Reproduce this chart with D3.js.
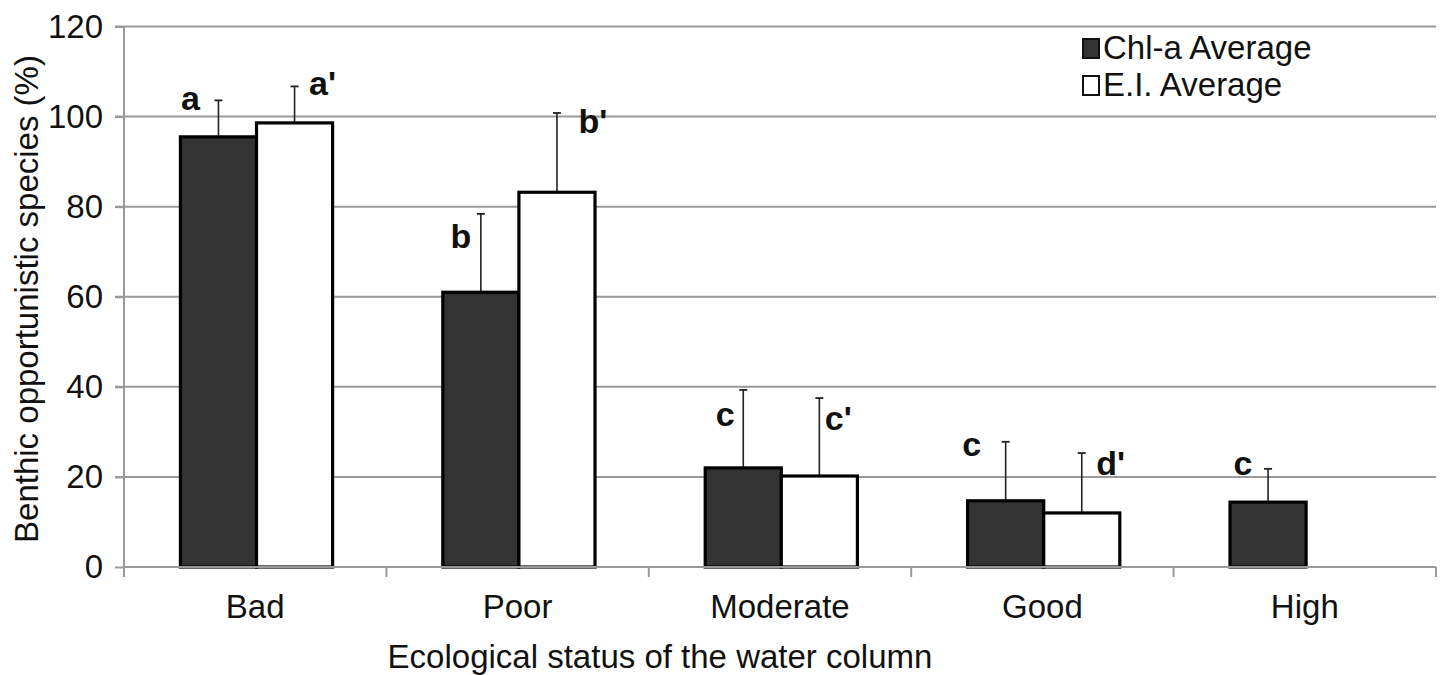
<!DOCTYPE html>
<html>
<head>
<meta charset="utf-8">
<script src="https://cdn.jsdelivr.net/npm/d3@7"></script>
<style>
  html, body { margin: 0; padding: 0; background: #fff; }
  svg { display: block; font-family: "Liberation Sans", Arial, sans-serif; }
</style>
</head>
<body>
<svg id="chart" width="1443" height="675"></svg>
<script>
// ---- data ----
const categories = ["Bad", "Poor", "Moderate", "Good", "High"];
const seriesNames = ["Chl-a Average", "E.I. Average"];
const chlValues = [95.5, 61.0, 22.0, 14.7, 14.4];
const chlErrors = [103.6, 78.4, 39.3, 27.8, 21.8];   // top of error bar
const eiValues  = [98.6, 83.2, 20.2, 12.0, null];
const eiErrors  = [106.7, 100.8, 37.5, 25.3, null];
const chlLetters = ["a", "b", "c", "c", "c"];
const eiLetters  = ["a'", "b'", "c'", "d'", null];
const chlLetterY = [101.5, 70.8, 31.3, 24.6, 20.4];
const eiLetterY  = [104.8, 96.4, 30.4, 20.4, null];
const yTicks = [0, 20, 40, 60, 80, 100, 120];

(function () {
// ---- layout ----
const svg = d3.select("#chart");
const mLeft = 124, mRight = 1436, mTop = 26.5, mBottom = 567;
const chlLetterDx = [-28, -20, -18, -34, -25];
const eiLetterDx  = [28, 36, 19, 29, 0];
const FS = 33;

const x = d3.scaleBand().domain(categories).range([mLeft, mRight]).paddingInner(0).paddingOuter(0);
const bw = x.bandwidth();
const x1 = d3.scaleBand().domain(seriesNames).range([bw * 0.215, bw * 0.795]).padding(0);
const y = d3.scaleLinear().domain([0, 120]).range([mBottom, mTop]);

const gridColor = "#999";

// gridlines
svg.append("g")
  .selectAll("line").data(yTicks.filter(d => d > 0)).join("line")
  .attr("x1", mLeft - 9).attr("x2", mRight)
  .attr("y1", d => y(d)).attr("y2", d => y(d))
  .attr("stroke", gridColor).attr("stroke-width", 2);

// y axis
const yAxis = svg.append("g").attr("transform", `translate(${mLeft},0)`)
  .call(d3.axisLeft(y).tickValues(yTicks).tickSize(9).tickPadding(12));
yAxis.select(".domain").attr("stroke", gridColor).attr("stroke-width", 2)
  .attr("d", `M0,${mTop}V${mBottom + 9}`);
yAxis.selectAll(".tick line").attr("stroke", gridColor).attr("stroke-width", 2);
yAxis.selectAll(".tick text").attr("font-size", FS).attr("fill", "#111")
  .attr("font-family", "Liberation Sans, Arial, sans-serif");

// x axis
const xAxisG = svg.append("g").attr("transform", `translate(0,${mBottom})`);
xAxisG.append("line").attr("x1", mLeft).attr("x2", mRight).attr("y1", 0).attr("y2", 0)
  .attr("stroke", gridColor).attr("stroke-width", 2);
const boundaries = categories.map(c => x(c)).concat([mRight]);
xAxisG.selectAll("line.tk").data(boundaries).join("line").attr("class", "tk")
  .attr("x1", d => d).attr("x2", d => d).attr("y1", 0).attr("y2", 10)
  .attr("stroke", gridColor).attr("stroke-width", 2);
xAxisG.selectAll("text").data(categories).join("text")
  .attr("x", d => x(d) + bw / 2).attr("y", 51)
  .attr("text-anchor", "middle").attr("font-size", FS).attr("fill", "#111")
  .text(d => d);

const rows = categories.map((c, i) => ({ c, i }));
const seriesData = [
  { name: seriesNames[0], vals: chlValues, errs: chlErrors, fill: "#333333", letters: chlLetters, ly: chlLetterY, dx: chlLetterDx },
  { name: seriesNames[1], vals: eiValues, errs: eiErrors, fill: "#ffffff", letters: eiLetters, ly: eiLetterY, dx: eiLetterDx }
];

// error bars
seriesData.forEach(s => {
  const g = svg.append("g");
  const items = rows.filter(r => s.vals[r.i] != null);
  const cx = r => x(r.c) + x1(s.name) + x1.bandwidth() / 2;
  g.selectAll("line.err").data(items).join("line").attr("class", "err")
    .attr("x1", cx).attr("x2", cx)
    .attr("y1", r => y(s.vals[r.i])).attr("y2", r => y(s.errs[r.i]))
    .attr("stroke", "#222").attr("stroke-width", 1.6);
  g.selectAll("line.cap").data(items).join("line").attr("class", "cap")
    .attr("x1", r => cx(r) - 4).attr("x2", r => cx(r) + 4)
    .attr("y1", r => y(s.errs[r.i])).attr("y2", r => y(s.errs[r.i]))
    .attr("stroke", "#222").attr("stroke-width", 1.8);
});

// bars + letters
seriesData.forEach(s => {
  const g = svg.append("g");
  const items = rows.filter(r => s.vals[r.i] != null);
  g.selectAll("rect").data(items).join("rect")
    .attr("x", r => x(r.c) + x1(s.name))
    .attr("y", r => y(s.vals[r.i]))
    .attr("width", x1.bandwidth())
    .attr("height", r => mBottom - y(s.vals[r.i]))
    .attr("fill", s.fill).attr("stroke", "#000").attr("stroke-width", 3.2);
  g.selectAll("text").data(items.filter(r => s.letters[r.i])).join("text")
    .attr("x", r => x(r.c) + x1(s.name) + x1.bandwidth() / 2 + s.dx[r.i])
    .attr("y", r => y(s.ly[r.i]))
    .attr("text-anchor", "middle").attr("font-size", 34).attr("font-weight", "bold")
    .attr("fill", "#111").text(r => s.letters[r.i]);
});

svg.append("line").attr("x1", mLeft).attr("x2", mRight).attr("y1", mBottom).attr("y2", mBottom)
  .attr("stroke", gridColor).attr("stroke-width", 2);

// legend
const legend = svg.append("g").attr("transform", "translate(1082,38)");
seriesData.forEach((s, i) => {
  const gy = i * 37;
  legend.append("rect").attr("x", 1).attr("y", gy + 1).attr("width", 16).attr("height", 19)
    .attr("fill", s.fill).attr("stroke", "#111").attr("stroke-width", 2);
  legend.append("text").attr("x", 21).attr("y", gy + 21)
    .attr("font-size", FS).attr("fill", "#111").text(s.name);
});

// axis titles
svg.append("text").attr("x", 660).attr("y", 668).attr("text-anchor", "middle")
  .attr("font-size", FS).attr("fill", "#111").text("Ecological status of the water column");
svg.append("text").attr("transform", "translate(38,299) rotate(-90)")
  .attr("text-anchor", "middle").attr("font-size", FS).attr("fill", "#111")
  .text("Benthic opportunistic species (%)");
})();
</script>
</body>
</html>
